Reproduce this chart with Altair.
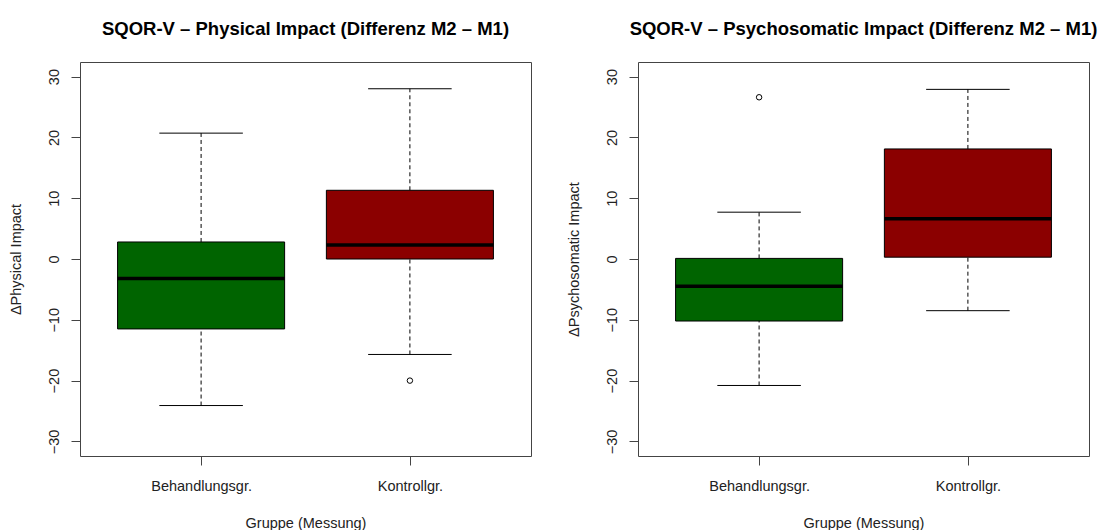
import altair as alt
import pandas as pd

# Groups and fill colours
groups = ["Behandlungsgr.", "Kontrollgr."]
fills = ["#006400", "#8B0000"]

# SQOR-V Physical Impact, change M2 - M1 (box statistics per group)
phys_lower = [-24.1, -15.7]
phys_q1 = [-11.5, 0.0]
phys_median = [-3.2, 2.3]
phys_q3 = [2.8, 11.3]
phys_upper = [20.7, 28.0]
phys_outliers = [[], [-20.0]]

# SQOR-V Psychosomatic Impact, change M2 - M1
psy_lower = [-20.8, -8.5]
psy_q1 = [-10.2, 0.3]
psy_median = [-4.5, 6.6]
psy_q3 = [0.1, 18.1]
psy_upper = [7.7, 27.9]
psy_outliers = [[26.6], []]

y_ticks = [-30, -20, -10, 0, 10, 20, 30]

BOX_HALF = 0.4
CAP_HALF = 0.2
FONT = "Liberation Sans"
TEXT = "#222222"
LINE = "#444444"

label_expr = "[" + ",".join("'%s'" % g for g in groups) + "][datum.value - 1]"

x_scale = alt.Scale(domain=[0.42, 2.58], nice=False, zero=False)
y_scale = alt.Scale(domain=[-32.4, 32.4], nice=False, zero=False)


def panel(title, ylabel, lower, q1, med, q3, upper, outliers):
    df = pd.DataFrame({
        "group": groups,
        "pos": list(range(1, len(groups) + 1)),
        "lower": lower, "q1": q1, "median": med, "q3": q3, "upper": upper,
    })
    out = pd.DataFrame(
        [{"group": g, "pos": i + 1, "value": v}
         for i, (g, vals) in enumerate(zip(groups, outliers)) for v in vals],
        columns=["group", "pos", "value"],
    )

    x_axis = alt.Axis(values=list(range(1, len(groups) + 1)), labelExpr=label_expr,
                      title="Gruppe (Messung)", titlePadding=24, labelPadding=14)
    y_axis = alt.Axis(values=y_ticks, title=ylabel, labelAngle=270,
                      labelAlign="center", labelBaseline="bottom", labelPadding=10,
                      minExtent=50, maxExtent=50, titlePadding=7)

    def X(field):
        return alt.X(field, type="quantitative", scale=x_scale, axis=x_axis)

    def Y(field):
        return alt.Y(field, type="quantitative", scale=y_scale, axis=y_axis)

    base = alt.Chart(df).transform_calculate(
        box_l="datum.pos - %f" % BOX_HALF,
        box_r="datum.pos + %f" % BOX_HALF,
        cap_l="datum.pos - %f" % CAP_HALF,
        cap_r="datum.pos + %f" % CAP_HALF,
    )

    whisk_lo = base.mark_rule(color="black", strokeWidth=1, strokeDash=[4, 3]).encode(
        x=X("pos"), y=Y("lower"), y2="q1:Q")
    whisk_hi = base.mark_rule(color="black", strokeWidth=1, strokeDash=[4, 3]).encode(
        x=X("pos"), y=Y("q3"), y2="upper:Q")
    cap_lo = base.mark_rule(color="black", strokeWidth=1).encode(
        x=X("cap_l"), x2="cap_r:Q", y=Y("lower"))
    cap_hi = base.mark_rule(color="black", strokeWidth=1).encode(
        x=X("cap_l"), x2="cap_r:Q", y=Y("upper"))
    box = base.mark_bar(stroke="black", strokeWidth=1, opacity=1).encode(
        x=X("box_l"), x2="box_r:Q", y=Y("q1"), y2="q3:Q",
        color=alt.Color("group:N", scale=alt.Scale(domain=groups, range=fills), legend=None))
    median = base.mark_rule(color="black", strokeWidth=3.5).encode(
        x=X("box_l"), x2="box_r:Q", y=Y("median"))
    pts = alt.Chart(out).mark_point(shape="circle", filled=False, color="black",
                                    size=30, strokeWidth=1, opacity=1).encode(
        x=X("pos"), y=Y("value"))

    return alt.layer(whisk_lo, whisk_hi, cap_lo, cap_hi, box, median, pts).properties(
        width=451, height=394,
        title=alt.TitleParams(title, fontSize=18.5, fontWeight="bold", font=FONT,
                              color="black", anchor="middle", frame="group", offset=24),
    )


left = panel("SQOR-V \u2013 Physical Impact (Differenz M2 \u2013 M1)", "\u0394Physical Impact",
             phys_lower, phys_q1, phys_median, phys_q3, phys_upper, phys_outliers)
right = panel("SQOR-V \u2013 Psychosomatic Impact (Differenz M2 \u2013 M1)", "\u0394Psychosomatic Impact",
              psy_lower, psy_q1, psy_median, psy_q3, psy_upper, psy_outliers)

chart = alt.hconcat(left, right, spacing=33).properties(
    padding={"left": 7, "right": 0, "top": 19, "bottom": 0},
    background="white",
).configure_view(
    stroke=LINE, strokeWidth=1
).configure_axis(
    domain=False, grid=False, ticks=True, tickColor=LINE, tickSize=9,
    labelFont=FONT, labelFontSize=14.5, labelColor=TEXT,
    titleFont=FONT, titleFontSize=14.5, titleFontWeight="normal", titleColor=TEXT,
)

chart.save("out.html", embed_options={"renderer": "svg", "actions": False})
